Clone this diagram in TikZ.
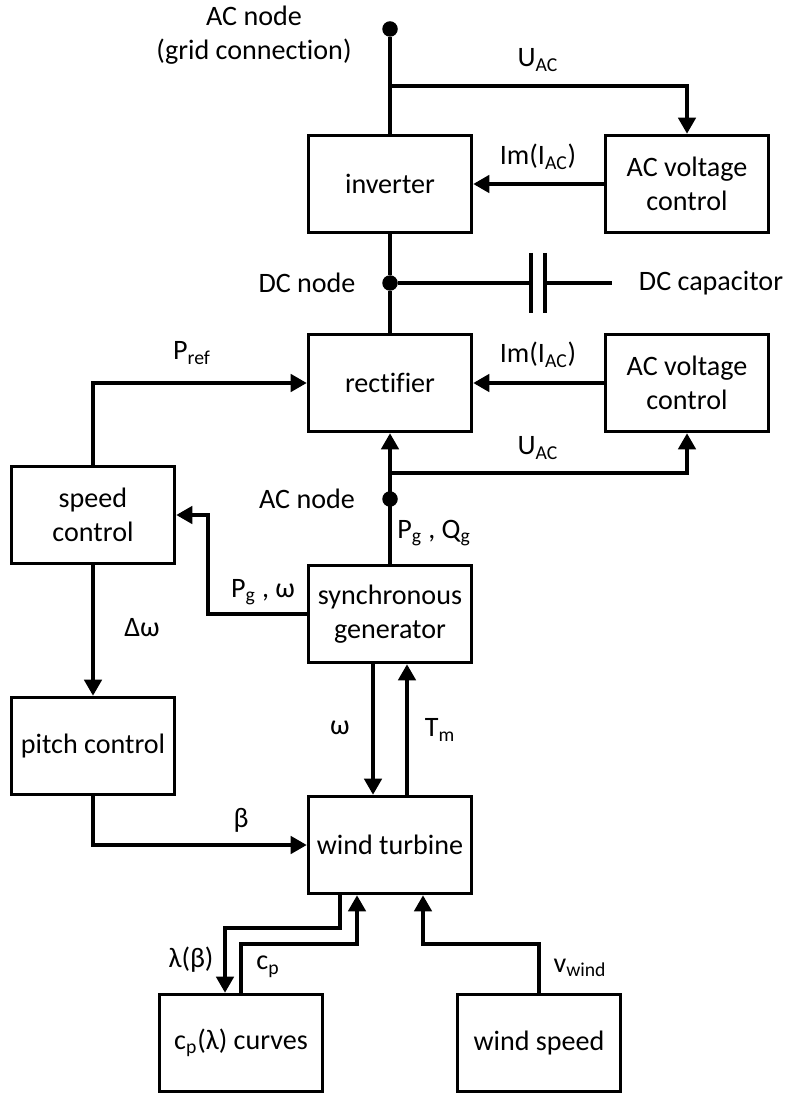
\documentclass[tikz,border=0pt]{standalone}
\usepackage{fontspec}
\setmainfont{Carlito}[Ligatures=CommonOff]
\usetikzlibrary{arrows.meta, positioning, calc}

\tikzset{
  block/.style={draw, line width=1.8pt, minimum width=3.27cm, minimum height=1.95cm, align=center, font=\fontsize{16}{19.4}\selectfont},
  lbl/.style={font=\fontsize{16}{19.4}\selectfont, align=center, inner sep=1pt},
  wire/.style={line width=1.8pt},
  sig/.style={line width=1.8pt, -{Triangle[length=0.32cm, width=0.35cm]}},
  dot/.style={circle, fill, inner sep=0pt, minimum size=0.31cm}
}

\begin{document}
\begin{tikzpicture}[x=0.02cm, y=-0.02cm]
    \useasboundingbox (0,0) rectangle (785,1097);

    % Converter chain
    \node[block] (inv) at (390,184) {inverter};
    \node[block] (acvtop) at (687,184) {AC voltage\\control};
    \node[block] (rect) at (390,383) {rectifier};
    \node[block] (acvbot) at (687,383) {AC voltage\\control};

    % Machine side
    \node[block] (speed) at (93,515) {speed\\control};
    \node[block] (gen) at (390,614) {synchronous\\generator};
    \node[block] (pitch) at (93,746) {pitch control};
    \node[block] (turb) at (390,845) {wind turbine};
    \node[block] (cpc) at (241,1043) {c\textsubscript{p}(λ) curves};
    \node[block] (wind) at (539,1043) {wind speed};

    % Electrical nodes
    \node[dot] (grid) at (390,29) {};
    \node[dot] (dcn) at (390,283) {};
    \node[dot] (acn) at (390,499) {};
    \coordinate (utop) at (390,86);
    \coordinate (ubot) at (390,473);

    % Grid side connections
    \draw[wire] (grid) -- (inv);
    \draw[sig] (utop) -| (acvtop);
    \draw[sig] (acvtop) -- (inv);
    \draw[wire] (inv) -- (dcn) -- (rect);

    % DC capacitor
    \coordinate (capL) at (531,283);
    \coordinate (capR) at (545,283);
    \coordinate (capE) at (612,283);
    \draw[wire] (dcn) -- (capL);
    \draw[wire] ($(capL)+(0,-30)$) -- ($(capL)+(0,30)$);
    \draw[wire] ($(capR)+(0,-30)$) -- ($(capR)+(0,30)$);
    \draw[wire] (capR) -- (capE);

    % Rectifier side connections
    \draw[sig] (acvbot) -- (rect);
    \draw[sig] (gen) -- (rect);
    \draw[sig] (ubot) -| (acvbot);
    \draw[sig] (speed) |- (rect);
    \coordinate (pgbend) at (208,614);
    \draw[sig] (gen.west) -- (pgbend) |- (speed);
    \draw[sig] (speed) -- (pitch);
    \draw[sig] (pitch) |- (turb);

    % Shaft
    \draw[sig] ([xshift=-0.34cm]gen.south) -- ([xshift=-0.34cm]turb.north);
    \draw[sig] ([xshift=0.34cm]turb.north) -- ([xshift=0.34cm]gen.south);

    % Aerodynamics
    \coordinate (lamA) at (340,928);
    \coordinate (cpA) at (357,944);
    \coordinate (windA) at (423,944);
    \draw[sig] (turb.south -| lamA) -- (lamA) -| ([xshift=-0.32cm]cpc.north);
    \draw[sig] (cpc.north) |- (cpA) -- (turb.south -| cpA);
    \draw[sig] (wind.north) |- (windA) -- (turb.south -| windA);

    % Labels
    \node[lbl] (gridlbl) at (254,35) {AC node\\(grid connection)};
    \node[lbl] (uactop) at (538,60) {U\textsubscript{AC}};
    \node[lbl] (imtop) at (538,157) {Im(I\textsubscript{AC})};
    \node[lbl] (dclbl) at (307,283) {DC node};
    \node[lbl] (caplbl) at (711,283) {DC capacitor};
    \node[lbl] (preflbl) at (192,353) {P\textsubscript{ref}};
    \node[lbl] (imbot) at (538,355) {Im(I\textsubscript{AC})};
    \node[lbl] (uacbot) at (538,448) {U\textsubscript{AC}};
    \node[lbl] (aclbl) at (307,499) {AC node};
    \node[lbl] (pqlbl) at (434,533) {P\textsubscript{g} , Q\textsubscript{g}};
    \node[lbl] (pwlbl) at (263,592) {P\textsubscript{g} , ω};
    \node[lbl] (dwlbl) at (142,628) {Δω};
    \node[lbl] (wlbl) at (340,728) {ω};
    \node[lbl] (tmlbl) at (440,730) {T\textsubscript{m}};
    \node[lbl] (betalbl) at (241,820) {β};
    \node[lbl] (lamlbl) at (191,960) {λ(β)};
    \node[lbl] (cplbl) at (268,967) {c\textsubscript{p}};
    \node[lbl] (vlbl) at (580,968) {v\textsubscript{wind}};
\end{tikzpicture}
\end{document}
